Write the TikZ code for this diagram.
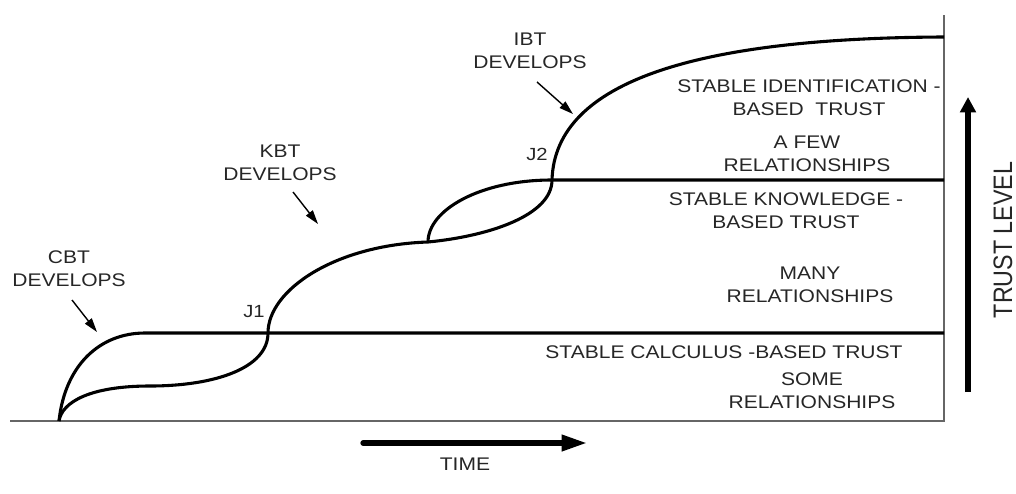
\documentclass[tikz,border=0pt]{standalone}
\usepackage{fontspec}
\setmainfont{Liberation Sans}[FakeStretch=1.15]
\newfontfamily\axisfont{Liberation Sans}[FakeStretch=0.87]
\usetikzlibrary{arrows.meta}

\begin{document}
\begin{tikzpicture}[x=0.025cm, y=-0.025cm,
	curve/.style={line width=2.2pt, line join=round},
	frame/.style={line width=1.1pt, draw=black!60},
	lbl/.style={text=black!85, align=center, inner sep=0pt, font=\fontsize{13}{16.5}\selectfont},
	junction/.style={text=black!85, inner sep=0pt, font=\fontsize{12.5}{14}\selectfont},
	pointer/.style={line width=1pt, -{Triangle[length=10pt, width=6pt]}},
	bigarrow/.style={line width=3.8pt, -{Triangle[length=18pt, width=11pt]}}]
	
	\useasboundingbox (0,0) rectangle (1016,493);
	
	% frame of the chart
	\coordinate (axisstart) at (10,421);
	\coordinate (corner) at (944,421);
	\coordinate (axistop) at (944,15);
	\draw[frame] (axisstart) -- (corner) -- (axistop);
	
	% points on the trust curves
	\coordinate (origin) at (59,421);
	\coordinate (cbt) at (145,333);
	\coordinate (cbtend) at (944,333);
	\coordinate (dip) at (150,386);
	\coordinate (j1) at (268,333);
	\coordinate (split) at (428,242);
	\coordinate (j2) at (552,180);
	\coordinate (kbtend) at (944,180);
	\coordinate (ibtend) at (944,37);
	
	\draw[curve] (origin) .. controls (65,365) and (100,333) .. (cbt) -- (cbtend);
	\draw[curve] (origin) .. controls (62,402) and (90,386) .. (dip)
		.. controls (215,386) and (268,368) .. (j1)
		.. controls (268,290) and (335,245) .. (split)
		.. controls (490,236) and (552,215) .. (j2)
		.. controls (555,80) and (700,38) .. (ibtend);
	\draw[curve] (split) .. controls (428,210) and (480,180) .. (j2) -- (kbtend);
	
	\node[junction] (j1label) at (254,312) {J1};
	\node[junction] (j2label) at (537,154) {J2};
	
	% what develops where
	\node[lbl] (cbtlabel) at (69,268.5) {CBT\\DEVELOPS};
	\node[lbl] (kbtlabel) at (280,163) {KBT\\DEVELOPS};
	\node[lbl] (ibtlabel) at (530,50.5) {IBT\\DEVELOPS};
	\coordinate (cbttail) at (72,300);
	\coordinate (cbthead) at (97,332);
	\coordinate (kbttail) at (293,192);
	\coordinate (kbthead) at (318,224);
	\coordinate (ibttail) at (537,82);
	\coordinate (ibthead) at (573,114);
	\draw[pointer] (cbttail) -- (cbthead);
	\draw[pointer] (kbttail) -- (kbthead);
	\draw[pointer] (ibttail) -- (ibthead);
	
	% the levels
	\node[lbl] (ibtstable) at (809,97.5) {STABLE IDENTIFICATION -\\BASED\ \ TRUST};
	\node[lbl] (few) at (807,153.5) {A FEW\\RELATIONSHIPS};
	\node[lbl] (kbtstable) at (786,210.5) {STABLE KNOWLEDGE -\\BASED TRUST};
	\node[lbl] (many) at (810,285) {MANY\\RELATIONSHIPS};
	\node[lbl] (cbtstable) at (724,352) {STABLE CALCULUS -BASED TRUST};
	\node[lbl] (some) at (812,391) {SOME\\RELATIONSHIPS};
	
	% axes
	\coordinate (timestart) at (363,443);
	\coordinate (timeend) at (587,443);
	\draw[bigarrow, line cap=round] (timestart) -- (timeend);
	\node[lbl] (time) at (465,464) {TIME};
	\coordinate (truststart) at (968,392);
	\coordinate (trustend) at (968,97);
	\draw[bigarrow, -{Triangle[length=11pt, width=11pt]}] (truststart) -- (trustend);
	\node[text=black!85, inner sep=0pt, rotate=90, font=\axisfont\fontsize{19}{22}\selectfont] (trust) at (1003,240) {TRUST LEVEL};
\end{tikzpicture}
\end{document}
